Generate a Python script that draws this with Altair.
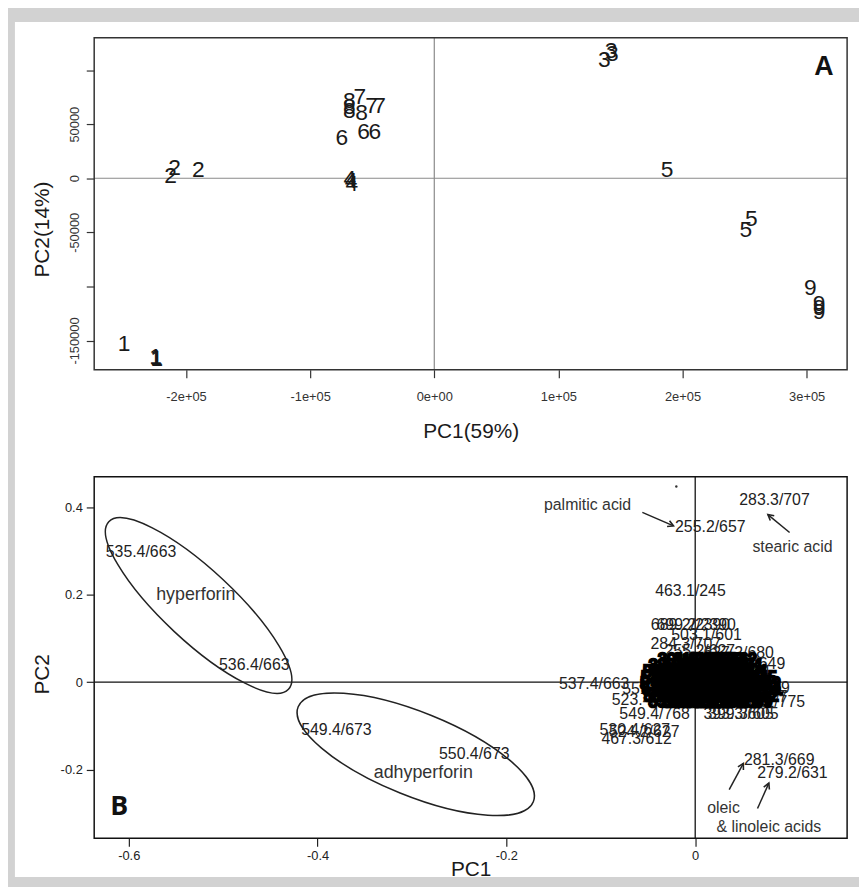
import math
import altair as alt
import pandas as pd

# ---------------- Panel A : PCA scores ----------------
a_lab = ["1", "1", "1", "1", "2", "2", "2", "3", "3", "3", "4", "4", "4",
         "5", "5", "5", "6", "6", "6", "7", "7", "7", "8", "8", "8", "8",
         "9", "9", "9", "9"]
a_x = [-250000, -224500, -224000, -223500, -212500, -209300, -190000,
       137000, 142500, 143500, -68000, -67000, -66500,
       187500, 255500, 251000, -74500, -57000, -48000,
       -60000, -50500, -44000, -68500, -68500, -68500, -58500,
       303000, 310000, 310000, 310000]
a_y = [-153000, -165000, -166000, -167000, 1600, 9800, 8000,
       109000, 118000, 115000, -1000, -3000, -5000,
       8000, -37500, -48000, 37500, 42500, 42500,
       75000, 66500, 66500, 71000, 66000, 62000, 60000,
       -101500, -116000, -120000, -124000]
a_ticks_x = [-200000, -100000, 0, 100000, 200000, 300000]
a_ticks_y = [-150000, -100000, -50000, 0, 50000, 100000]
a_domain_x = [-274000, 332600]
a_domain_y = [-177000, 129800]
a_tag = ["A"]
a_tag_x = [314000]
a_tag_y = [103000]

# ---------------- Panel B : loadings ----------------
b_lab = ["535.4/663", "536.4/663", "549.4/673", "550.4/673", "537.4/663",
         "255.2/657", "283.3/707", "463.1/245", "281.3/669", "279.2/631",
         "689.2/2390", "699.2/2390", "503.1/601", "284.3/707", "255.2/627",
         "627.2/680", "347.1/649", "515.3/744", "551.4/663", "523.4/627",
         "549.4/768", "530.4/627", "524.2/627", "467.3/612", "393.3/605",
         "399.3/605", "271.2/669", "295.2/775", "311.2/817"]
b_x = [-0.587, -0.467, -0.380, -0.234, -0.107,
       0.016, 0.084, -0.005, 0.089, 0.103,
       -0.005, 0.001, 0.012, -0.010, 0.005,
       0.046, 0.058, 0.042, -0.040, -0.051,
       -0.043, -0.064, -0.054, -0.062, 0.046,
       0.051, 0.063, 0.079, 0.061]
b_y = [0.298, 0.038, -0.110, -0.165, -0.004,
       0.354, 0.417, 0.209, -0.178, -0.209,
       0.131, 0.131, 0.107, 0.087, 0.071,
       0.066, 0.041, 0.023, -0.017, -0.042,
       -0.074, -0.110, -0.114, -0.130, -0.074,
       -0.074, -0.013, -0.045, -0.035]

# dense overlapping cluster of loadings near the origin
blob_lab = ["301.2/655", "317.2/653", "409.3/662",
            "325.2/641", "507.3/670", "443.2/628", "283.2/671",
            "521.4/648", "339.2/659", "611.4/690", "255.1/612", "471.3/701",
            "533.4/652", "293.2/633", "487.3/664", "377.2/615", "605.4/688", "313.2/645",
            "519.4/656", "297.1/610", "553.4/680", "359.2/636", "445.3/674", "269.2/619", "329.2/702",
            "527.4/639", "281.2/666", "415.3/684", "565.4/657", "355.2/697", "301.2/623", "491.3/611",
            "539.4/646", "277.1/629", "463.3/693", "317.2/677", "545.4/659", "381.2/642",
            "531.4/651", "349.2/688", "267.1/604", "427.3/672", "511.4/699"]
blob_x = [-0.002, 0.014, 0.028,
          -0.012, 0.003, 0.019, 0.035,
          -0.018, -0.004, 0.011, 0.025, 0.040,
          -0.020, -0.007, 0.007, 0.021, 0.036, 0.049,
          -0.021, -0.008, 0.005, 0.017, 0.030, 0.042, 0.053,
          -0.019, -0.006, 0.007, 0.019, 0.032, 0.044, 0.056,
          -0.017, -0.003, 0.011, 0.024, 0.038, 0.051,
          -0.012, 0.002, 0.017, 0.032, 0.045]
blob_y = [0.051, 0.051, 0.051,
          0.037, 0.037, 0.037, 0.037,
          0.023, 0.023, 0.023, 0.023, 0.023,
          0.010, 0.010, 0.010, 0.010, 0.010, 0.010,
          -0.004, -0.004, -0.004, -0.004, -0.004, -0.004, -0.004,
          -0.017, -0.017, -0.017, -0.017, -0.017, -0.017, -0.017,
          -0.031, -0.031, -0.031, -0.031, -0.031, -0.031,
          -0.045, -0.045, -0.045, -0.045, -0.045]

note_lab = ["palmitic acid", "stearic acid", "oleic", "& linoleic acids"]
note_x = [-0.114, 0.103, 0.030, 0.078]
note_y = [0.404, 0.309, -0.289, -0.332]
group_lab = ["hyperforin", "adhyperforin"]
group_x = [-0.529, -0.288]
group_y = [0.200, -0.208]

arr_x1 = [-0.056, 0.100, 0.036, 0.066]
arr_y1 = [0.388, 0.342, -0.246, -0.289]
arr_x2 = [-0.023, 0.077, 0.051, 0.078]
arr_y2 = [0.357, 0.383, -0.186, -0.231]

ell_x = [-0.526, -0.296]
ell_y = [0.175, -0.165]
ell_semi_major = [124, 128]   # px
ell_ratio = [0.29, 0.33]
ell_angle = [43, 22]

dot_x = [-0.020]
dot_y = [0.447]

b_ticks_x = [-0.6, -0.4, -0.2, 0]
b_ticks_y = [-0.2, 0, 0.2, 0.4]
b_domain_x = [-0.6366, 0.1609]
b_domain_y = [-0.3572, 0.4695]
b_tag = ["B"]
b_tag_x = [-0.610]
b_tag_y = [-0.285]

# ---------------- layout / style ----------------
W = 760
HA = 335
HB = 365
FONT = "Liberation Sans, Arial, Helvetica, sans-serif"
ONE = alt.Data(values=[{"k": 1}])


def axis(**kw):
    base = dict(grid=False, domain=False, tickSize=8, tickWidth=1.2, zindex=1,
                labelFont=FONT, titleFont=FONT, titleFontWeight="normal",
                labelFontSize=13, titleFontSize=21, labelOverlap=False,
                labelFlush=False, tickColor="#333", labelColor="#333",
                titleColor="#1a1a1a")
    base.update(kw)
    return alt.Axis(**base)


axA_x = axis(values=a_ticks_x, title="PC1(59%)", labelPadding=13, titleY=62,
             titleBaseline="middle", titleAlign="center",
             labelExpr="datum.value == 0 ? '0e+00' : (datum.value < 0 ? '-' : '') + abs(datum.value) / 100000 + 'e+05'")
axA_y = axis(values=a_ticks_y, title="PC2(14%)", labelAngle=270, labelAlign="center",
             labelBaseline="bottom", labelPadding=5, titleX=-52, titleY=193,
             titleAngle=270, titleBaseline="middle", titleAlign="center",
             labelExpr="abs(datum.value) == 100000 ? '' : '' + datum.value")
scA_x = alt.Scale(domain=a_domain_x, nice=False, zero=False)
scA_y = alt.Scale(domain=a_domain_y, nice=False, zero=False)


def xA(f):
    return alt.X(f, type="quantitative", scale=scA_x, axis=axA_x)


def yA(f):
    return alt.Y(f, type="quantitative", scale=scA_y, axis=axA_y)


axB_x = axis(values=b_ticks_x, title="PC1", labelPadding=3, titleY=32,
             titleBaseline="middle", titleAlign="center", labelColor="#222",
             tickColor="#222", labelExpr="'' + datum.value")
axB_y = axis(values=b_ticks_y, title="PC2", labelPadding=4, titleX=-52, titleY=199,
             titleAngle=270, titleBaseline="middle", titleAlign="center",
             labelColor="#222", tickColor="#222", labelExpr="'' + datum.value")
scB_x = alt.Scale(domain=b_domain_x, nice=False, zero=False)
scB_y = alt.Scale(domain=b_domain_y, nice=False, zero=False)


def xB(f):
    return alt.X(f, type="quantitative", scale=scB_x, axis=axB_x)


def yB(f):
    return alt.Y(f, type="quantitative", scale=scB_y, axis=axB_y)


# ---------------- Panel A chart ----------------
dfA = pd.DataFrame({"x": a_x, "y": a_y, "lab": a_lab})
bgA = alt.Chart(ONE).mark_rect(color="white").encode(
    x=alt.value(-80), x2=alt.value(W + 12), y=alt.value(-16), y2=alt.value(HA + 75))
vA = alt.Chart(pd.DataFrame({"x": [0]})).mark_rule(color="#8a8a8a", strokeWidth=1.2).encode(x=xA("x"))
hA = alt.Chart(pd.DataFrame({"y": [0]})).mark_rule(color="#8a8a8a", strokeWidth=1.2).encode(y=yA("y"))
frameA = alt.Chart(ONE).mark_rect(fillOpacity=0, stroke="#333", strokeWidth=1.5).encode(
    x=alt.value(0), x2=alt.value(W), y=alt.value(0), y2=alt.value(HA))
txtA = alt.Chart(dfA).mark_text(font=FONT, fontSize=23, color="#1a1a1a").encode(
    x=xA("x"), y=yA("y"), text="lab:N")
tagA = alt.Chart(pd.DataFrame({"x": a_tag_x, "y": a_tag_y, "t": a_tag})).mark_text(
    font=FONT, fontSize=27, fontWeight="bold", color="#111").encode(x=xA("x"), y=yA("y"), text="t:N")
panelA = alt.layer(bgA, vA, hA, frameA, txtA, tagA).properties(width=W, height=HA)

# ---------------- Panel B chart ----------------
kx = W / (b_domain_x[1] - b_domain_x[0])
ky = HB / (b_domain_y[1] - b_domain_y[0])
arr_ang = []
for i in range(len(arr_x1)):
    dx = (arr_x2[i] - arr_x1[i]) * kx
    dy = -(arr_y2[i] - arr_y1[i]) * ky
    arr_ang.append(math.degrees(math.atan2(dx, -dy)) % 360)

dfB = pd.DataFrame({"x": b_x, "y": b_y, "lab": b_lab})
dfBlob = pd.DataFrame({"x": blob_x, "y": blob_y, "lab": blob_lab})
dfNote = pd.DataFrame({"x": note_x, "y": note_y, "lab": note_lab})
dfGroup = pd.DataFrame({"x": group_x, "y": group_y, "lab": group_lab})
dfArr = pd.DataFrame({"x": arr_x1, "y": arr_y1, "x2": arr_x2, "y2": arr_y2, "ang": arr_ang})

ARROW = "M-0.55,1 L0,0 L0.55,1"
K = 0.5523


def ellipse_path(b):
    return (f"M1,0 C1,{K*b:.4f} {K:.4f},{b:.4f} 0,{b:.4f} "
            f"C{-K:.4f},{b:.4f} -1,{K*b:.4f} -1,0 "
            f"C-1,{-K*b:.4f} {-K:.4f},{-b:.4f} 0,{-b:.4f} "
            f"C{K:.4f},{-b:.4f} 1,{-K*b:.4f} 1,0 Z")


bgB = alt.Chart(ONE).mark_rect(color="white").encode(
    x=alt.value(-80), x2=alt.value(W + 12), y=alt.value(-33), y2=alt.value(HB + 39))
vB = alt.Chart(pd.DataFrame({"x": [0]})).mark_rule(color="#111", strokeWidth=1.3).encode(x=xB("x"))
hB = alt.Chart(pd.DataFrame({"y": [0]})).mark_rule(color="#111", strokeWidth=1.3).encode(y=yB("y"))
frameB = alt.Chart(ONE).mark_rect(fillOpacity=0, stroke="#111", strokeWidth=1.5).encode(
    x=alt.value(0), x2=alt.value(W), y=alt.value(0), y2=alt.value(HB))

ells = []
for i in range(len(ell_x)):
    d = pd.DataFrame({"x": [ell_x[i]], "y": [ell_y[i]], "ang": [ell_angle[i]]})
    ells.append(alt.Chart(d).mark_point(
        shape=ellipse_path(ell_ratio[i]), size=(2 * ell_semi_major[i]) ** 2,
        filled=False, stroke="#222", strokeWidth=1.5, opacity=1).encode(
        x=xB("x"), y=yB("y"), angle=alt.Angle("ang:Q", scale=None)))

shafts = alt.Chart(dfArr).mark_rule(color="#222", strokeWidth=1.5).encode(
    x=xB("x"), y=yB("y"), x2="x2:Q", y2="y2:Q")
heads = alt.Chart(dfArr).mark_point(shape=ARROW, size=130, filled=False, stroke="#222",
                                    strokeWidth=1.6, opacity=1).encode(
    x=xB("x2"), y=yB("y2"), angle=alt.Angle("ang:Q", scale=None))
dot = alt.Chart(pd.DataFrame({"x": dot_x, "y": dot_y})).mark_circle(size=6, color="#333", opacity=1).encode(
    x=xB("x"), y=yB("y"))
txtB = alt.Chart(dfB).mark_text(font=FONT, fontSize=16, color="#222").encode(
    x=xB("x"), y=yB("y"), text="lab:N")
blob = alt.Chart(dfBlob).mark_text(font=FONT, fontSize=16, color="#000", stroke="#000",
                                   strokeWidth=2.6).encode(x=xB("x"), y=yB("y"), text="lab:N")
notes = alt.Chart(dfNote).mark_text(font=FONT, fontSize=16, color="#333").encode(
    x=xB("x"), y=yB("y"), text="lab:N")
groups = alt.Chart(dfGroup).mark_text(font=FONT, fontSize=18, color="#333").encode(
    x=xB("x"), y=yB("y"), text="lab:N")
tagB = alt.Chart(pd.DataFrame({"x": b_tag_x, "y": b_tag_y, "t": b_tag})).mark_text(
    font="Open Sans, Liberation Sans, sans-serif", fontSize=27, fontWeight="bold", color="#111").encode(
    x=xB("x"), y=yB("y"), text="t:N")

panelB = alt.layer(bgB, vB, hB, frameB, *ells, shafts, heads, dot, txtB, blob, notes, groups, tagB
                   ).properties(width=W, height=HB)

chart = alt.vconcat(panelA, panelB, spacing=0).properties(
    background="#d2d2d2",
    padding={"left": 7, "top": 10, "right": 0, "bottom": 3},
).configure_view(strokeWidth=0)

chart.save("out.html", embed_options={"renderer": "svg", "actions": False})
